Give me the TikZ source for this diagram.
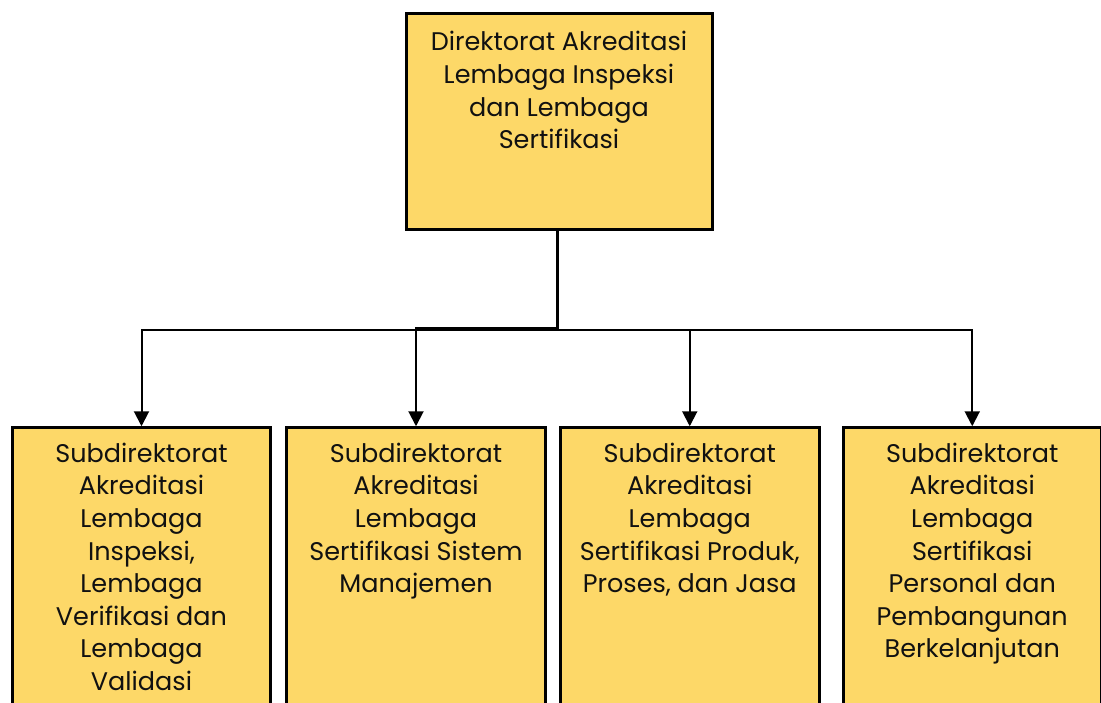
\documentclass[tikz,border=0pt]{standalone}
\usepackage{fontspec}
\setmainfont{Poppins}
\usetikzlibrary{arrows.meta}
\definecolor{boxfill}{HTML}{FDD868}
\definecolor{ink}{HTML}{111111}
\newcommand{\boxtext}[3]{\parbox[t][#2][t]{#1}{\centering\strut #3}}
\begin{document}
\begin{tikzpicture}[x=1pt,y=-1pt,
  txt/.style={font=\fontsize{25.5}{32.6}\selectfont, text=ink},
  topbox/.style={txt, draw=black, line width=3pt, fill=boxfill, anchor=north west, inner xsep=0pt, inner ysep=15pt},
  subbox/.style={txt, draw=black, line width=2.5pt, fill=boxfill, anchor=north west, inner xsep=0pt, inner ysep=12pt},
  trunk/.style={draw=black, line width=3pt},
  conn/.style={draw=black, line width=2pt, -{Triangle[width=15pt,length=15pt]}},
]
\clip (0,0) rectangle (1101,702);
\fill[white] (0,0) rectangle (1101,702);

\node[topbox] (top) at (404.5,11.5) {\boxtext{306pt}{186pt}{Direktorat Akreditasi\\Lembaga Inspeksi\\dan Lembaga\\Sertifikasi}};

\node[subbox] (c1) at (11.25,426.25) {\boxtext{258pt}{276pt}{Subdirektorat\\Akreditasi\\Lembaga\\Inspeksi,\\Lembaga\\Verifikasi dan\\Lembaga\\Validasi}};
\node[subbox] (c2) at (285.25,426.25) {\boxtext{259pt}{276pt}{Subdirektorat\\Akreditasi\\Lembaga\\Sertifikasi Sistem\\Manajemen}};
\node[subbox] (c3) at (559,426.25) {\boxtext{259pt}{276pt}{Subdirektorat\\Akreditasi\\Lembaga\\Sertifikasi Produk,\\Proses, dan Jasa}};
\node[subbox] (c4) at (842,426.25) {\boxtext{258pt}{276pt}{Subdirektorat\\Akreditasi\\Lembaga\\Sertifikasi\\Personal dan\\Pembangunan\\Berkelanjutan}};

\coordinate (j) at (557.5,330);
\coordinate (j2) at (557.5,327.5);
\draw[trunk] (top.south -| j) -- (j);
\draw[conn] (j) -| (c1.north);
\draw[conn] (j2) -| (c2.north);
\draw[conn] (j) -| (c3.north);
\draw[conn] (j) -| (c4.north);
\end{tikzpicture}
\end{document}
